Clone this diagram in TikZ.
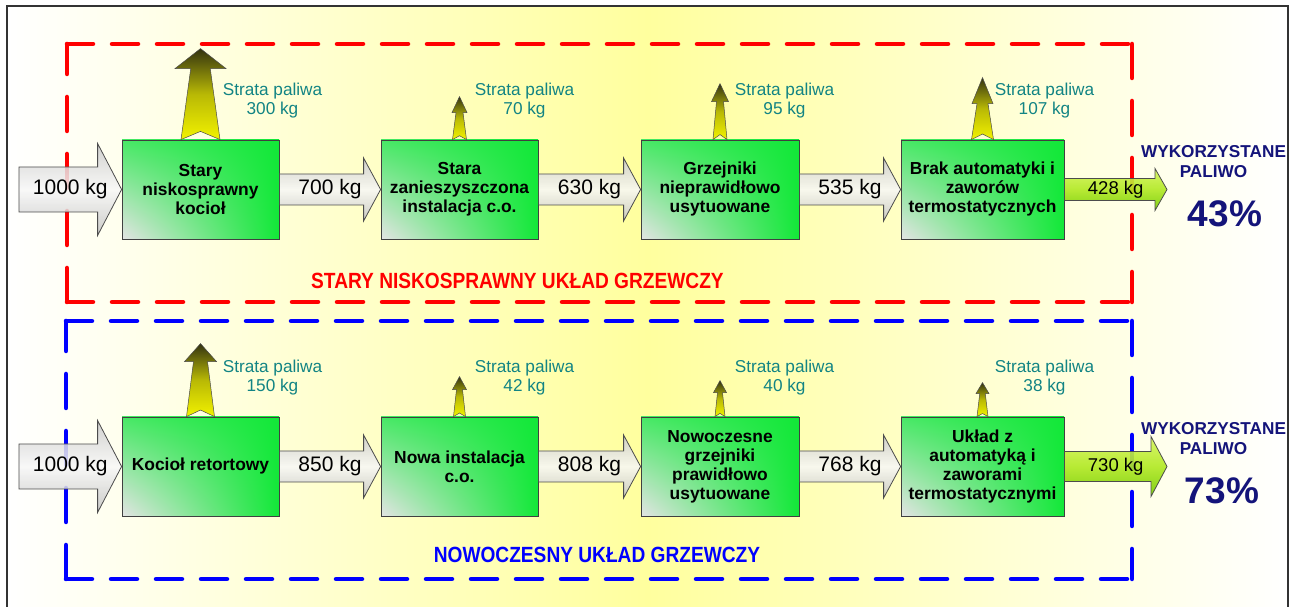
\documentclass[tikz,border=0pt]{standalone}
\usepackage{fontspec}
\setmainfont{Liberation Sans}
\usepackage{graphicx}
\usetikzlibrary{calc,shadings}

\definecolor{framegray}{HTML}{333333}
\definecolor{bgyellow}{HTML}{FFFF9E}
\definecolor{lossteal}{HTML}{128484}
\definecolor{usednavy}{HTML}{14147A}
\definecolor{boxgreen}{HTML}{12E838}
\definecolor{boxlight}{HTML}{48E866}
\definecolor{boxgray}{HTML}{E4E4E4}
\definecolor{lossdark}{HTML}{333310}
\definecolor{lossyellow}{HTML}{F2F200}
\definecolor{greentop}{HTML}{D6F65C}
\definecolor{greenmid}{HTML}{B0E822}
\definecolor{greenbot}{HTML}{74CC00}

% block arrow: name, start, tip, body half height, head half height, head length, style, text
\newcommand{\flowarrow}[8]{%
  \shadedraw[#7] ($(#2)+(0,#4)$) -- ($(#3)+(-#6,#4)$) -- ($(#3)+(-#6,#5)$) -- (#3)
    -- ($(#3)+(-#6,-#5)$) -- ($(#3)+(-#6,-#4)$) -- ($(#2)+(0,-#4)$) -- cycle;
  \node[#7 text] (#1) at ($(#2)!0.5!(#3)$) {#8};
}

% loss arrow on top of a box: box, height, head length, base half width, wing half width
\newcommand{\lossarrow}[5]{%
  \shadedraw[lossflow] ($(#1.north)+(-#4,0)$) -- ($(#1.north)+(-#4/2,#2-#3)$)
    -- ($(#1.north)+(-#5,#2-#3)$) -- ($(#1.north)+(0,#2)$) -- ($(#1.north)+(#5,#2-#3)$)
    -- ($(#1.north)+(#4/2,#2-#3)$) -- ($(#1.north)+(#4,0)$) -- ($(#1.north)+(0,#2*0.09)$) -- cycle;
}

\tikzset{
  stagebox/.style={draw=black!75, line width=0.8pt, minimum height=99pt, inner sep=0pt,
    align=center, font=\fontsize{17.4}{19}\selectfont\bfseries,
    shade, upper left=boxlight, upper right=boxgreen, lower right=boxgreen, lower left=boxgray},
  grayflow/.style={draw=black!70, line width=0.8pt, top color=gray!42, bottom color=gray!48,
    middle color=gray!6, fill opacity=0.85},
  grayflow text/.style={font=\fontsize{21}{24}\selectfont, text=black, inner sep=0pt},
  greenflow/.style={draw=black!70, line width=0.8pt, top color=greentop, bottom color=greenbot,
    middle color=greenmid, fill opacity=0.9},
  greenflow text/.style={font=\fontsize{18.5}{21}\selectfont, text=black, inner sep=0pt},
  lossflow/.style={draw=black!70, line width=0.5pt, top color=lossdark, bottom color=lossyellow,
    middle color=lossyellow!70!lossdark},
  losstext/.style={text=lossteal, align=center, font=\fontsize{17.2}{19}\selectfont, inner sep=0pt},
  usedtext/.style={text=usednavy, align=center, font=\fontsize{17.2}{20}\selectfont\bfseries, inner sep=0pt},
  usedpct/.style={text=usednavy, font=\fontsize{37}{40}\selectfont\bfseries, inner sep=0pt},
  titletext/.style={font=\fontsize{22}{24}\selectfont\bfseries, inner sep=0pt},
  hdash/.style={line width=4.5pt, line cap=round, dash pattern=on 26pt off 19pt},
  vdash/.style={line width=4.5pt, line cap=round, dash pattern=on 34pt off 23pt}
}

\begin{document}
\begin{tikzpicture}[x=1pt, y=1pt]
  \useasboundingbox (0,0) rectangle (1297,607);

  % background and outer frame
  \shade[left color=white, right color=white, middle color=bgyellow] (7,-10) rectangle (1288,601);
  \draw[framegray, line width=2pt] (7,-10) -- (7,601) -- (1288,601) -- (1288,-10);

  % dashed frames of the two systems
  \draw[red, hdash] (67,563) -- (1132,563);
  \draw[red, hdash] (67,305) -- (1132,305);
  \draw[red, vdash] (67,305) -- (67,563);
  \draw[red, vdash] (1132,563) -- (1132,305);
  \draw[blue, hdash] (66,286) -- (1132,286);
  \draw[blue, hdash] (66,28) -- (1132,28);
  \draw[blue, vdash] (66,28) -- (66,286);
  \draw[blue, vdash] (1132,286) -- (1132,28);

  % old system
  \node[stagebox, minimum width=157pt] (b11) at (200.5,417.5) {Stary\\niskosprawny\\kocioł};
  \node[stagebox, minimum width=157pt] (b12) at (459.5,417.5) {Stara\\zanieszyszczona\\instalacja c.o.};
  \node[stagebox, minimum width=158pt] (b13) at (720,417.5) {Grzejniki\\nieprawidłowo\\usytuowane};
  \node[stagebox, minimum width=163pt] (b14) at (982.5,417.5) {Brak automatyki i\\zaworów\\termostatycznych};
  \coordinate (in1) at (19,417.5);
  \coordinate (out1) at (1167,417.5);

  \flowarrow{f10}{in1}{b11.west}{22.5}{46}{24}{grayflow}{1000 kg}
  \flowarrow{f11}{b11.east}{b12.west}{15.5}{31.5}{17}{grayflow}{700 kg}
  \flowarrow{f12}{b12.east}{b13.west}{15.5}{31.5}{17}{grayflow}{630 kg}
  \flowarrow{f13}{b13.east}{b14.west}{15.5}{31.5}{17}{grayflow}{535 kg}
  \flowarrow{f14}{b14.east}{out1}{11}{21}{12}{greenflow}{428 kg}

  \lossarrow{b11}{91}{20}{19.5}{25.5}
  \lossarrow{b12}{43}{16}{7}{7.5}
  \lossarrow{b13}{56}{18}{7}{8.5}
  \lossarrow{b14}{62}{26}{11}{10.5}
  \node[losstext] (s11) at ($(b11.north)+(72,39)$) {Strata paliwa\\300 kg};
  \node[losstext] (s12) at ($(b12.north)+(65,39)$) {Strata paliwa\\70 kg};
  \node[losstext] (s13) at ($(b13.north)+(64.5,39)$) {Strata paliwa\\95 kg};
  \node[losstext] (s14) at ($(b14.north)+(62,39)$) {Strata paliwa\\107 kg};

  \node[usedtext] (u1) at (1213.5,445.5) {WYKORZYSTANE\\PALIWO};
  \node[usedpct] (p1) at (1225,393.5) {43\%};
  \node[titletext, text=red] (t1) at (517.5,326.5) {\scalebox{0.87}[1]{STARY NISKOSPRAWNY UKŁAD GRZEWCZY}};

  % new system
  \node[stagebox, minimum width=157pt] (b21) at (200.5,140.5) {Kocioł retortowy};
  \node[stagebox, minimum width=157pt] (b22) at (459.5,140.5) {Nowa instalacja\\c.o.};
  \node[stagebox, minimum width=158pt] (b23) at (720,140.5) {Nowoczesne\\grzejniki\\prawidłowo\\usytuowane};
  \node[stagebox, minimum width=163pt] (b24) at (982.5,140.5) {Układ z\\automatyką i\\zaworami\\termostatycznymi};
  \coordinate (in2) at (19,140.5);
  \coordinate (out2) at (1167,140.5);

  \flowarrow{f20}{in2}{b21.west}{22.5}{46}{24}{grayflow}{1000 kg}
  \flowarrow{f21}{b21.east}{b22.west}{15.5}{31.5}{17}{grayflow}{850 kg}
  \flowarrow{f22}{b22.east}{b23.west}{15.5}{31.5}{17}{grayflow}{808 kg}
  \flowarrow{f23}{b23.east}{b24.west}{15.5}{31.5}{17}{grayflow}{768 kg}
  \flowarrow{f24}{b24.east}{out2}{15}{30}{16}{greenflow}{730 kg}

  \lossarrow{b21}{73}{18}{14}{16}
  \lossarrow{b22}{40}{13}{6}{7}
  \lossarrow{b23}{36}{12}{5}{6.5}
  \lossarrow{b24}{34}{11}{5.5}{6.5}
  \node[losstext] (s21) at ($(b21.north)+(72,39.5)$) {Strata paliwa\\150 kg};
  \node[losstext] (s22) at ($(b22.north)+(65,39.5)$) {Strata paliwa\\42 kg};
  \node[losstext] (s23) at ($(b23.north)+(64.5,39.5)$) {Strata paliwa\\40 kg};
  \node[losstext] (s24) at ($(b24.north)+(62,39.5)$) {Strata paliwa\\38 kg};

  \node[usedtext] (u2) at (1213.5,168.5) {WYKORZYSTANE\\PALIWO};
  \node[usedpct] (p2) at (1222,116.5) {73\%};
  \node[titletext, text=blue] (t2) at (597,52.5) {\scalebox{0.87}[1]{NOWOCZESNY UKŁAD GRZEWCZY}};
\end{tikzpicture}
\end{document}
